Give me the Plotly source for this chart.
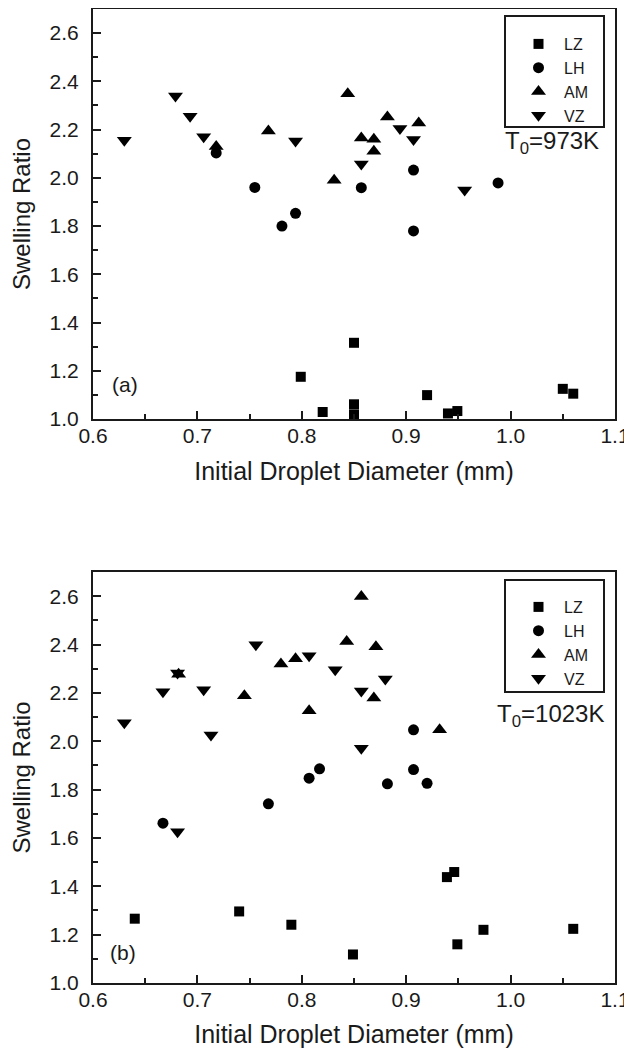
import plotly.graph_objects as go

# ---------------- data ----------------
# (a) T0 = 973 K
a_LZ_x = [0.850, 0.799, 0.820, 0.850, 0.850, 0.920, 0.940, 0.949, 1.050, 1.060]
a_LZ_y = [1.316, 1.175, 1.029, 1.061, 1.019, 1.099, 1.023, 1.033, 1.125, 1.105]
a_LH_x = [0.718, 0.755, 0.781, 0.794, 0.857, 0.907, 0.907, 0.988]
a_LH_y = [2.103, 1.960, 1.800, 1.853, 1.959, 2.032, 1.780, 1.979]
a_AM_x = [0.718, 0.768, 0.831, 0.844, 0.857, 0.869, 0.869, 0.882, 0.912]
a_AM_y = [2.130, 2.194, 1.990, 2.349, 2.165, 2.160, 2.110, 2.252, 2.227]
a_VZ_x = [0.630, 0.679, 0.693, 0.706, 0.794, 0.857, 0.894, 0.907, 0.956]
a_VZ_y = [2.156, 2.339, 2.255, 2.170, 2.153, 2.057, 2.204, 2.159, 1.950]

# (b) T0 = 1023 K
b_LZ_x = [0.640, 0.740, 0.790, 0.849, 0.939, 0.946, 0.949, 0.974, 1.060]
b_LZ_y = [1.266, 1.296, 1.241, 1.118, 1.438, 1.459, 1.160, 1.220, 1.224]
b_LH_x = [0.907, 0.807, 0.817, 0.907, 0.882, 0.920, 0.768, 0.667]
b_LH_y = [2.047, 1.847, 1.886, 1.883, 1.824, 1.826, 1.741, 1.661]
b_AM_x = [0.682, 0.745, 0.780, 0.794, 0.807, 0.843, 0.857, 0.871, 0.869, 0.932]
b_AM_y = [2.277, 2.188, 2.319, 2.341, 2.126, 2.413, 2.599, 2.391, 2.179, 2.048]
b_VZ_x = [0.630, 0.667, 0.681, 0.706, 0.713, 0.756, 0.807, 0.832, 0.857, 0.857, 0.880, 0.681]
b_VZ_y = [2.076, 2.205, 2.282, 2.213, 2.026, 2.399, 2.354, 2.296, 2.208, 1.971, 2.257, 1.626]

series_names = ["LZ", "LH", "AM", "VZ"]
x_ticks = [0.6, 0.7, 0.8, 0.9, 1.0, 1.1]
x_tick_labels = ["0.6", "0.7", "0.8", "0.9", "1.0", "1.1"]
y_ticks = [1.0, 1.2, 1.4, 1.6, 1.8, 2.0, 2.2, 2.4, 2.6]
y_tick_labels = ["1.0", "1.2", "1.4", "1.6", "1.8", "2.0", "2.2", "2.4", "2.6"]
panel_labels = ["(a)", "(b)"]
temp_labels = ["T<sub>0</sub>=973K", "T<sub>0</sub>=1023K"]

# ---------------- layout constants ----------------
# The page body keeps its default 8px margin, so the figure starts at (8, 8)
# in the window; all target positions below are given in window pixels.
OFF = 8
W, H = 632 - OFF, 1048 - OFF
FRAME_L, FRAME_R, FRAME_T, FRAME_B = 93, 615, 9, 983
ML = FRAME_L - OFF
MR = W - (FRAME_R - OFF)
MT = FRAME_T - OFF
MB = H - (FRAME_B - OFF)
PW = W - ML - MR
PH = H - MT - MB


def py(pix):
    return 1 - (pix - OFF - MT) / PH


def px(pix):
    return (pix - OFF - ML) / PW


FONT = "Liberation Sans, Arial, sans-serif"
INK = "#1a1a1a"
symbols = ["square", "circle", "triangle-up", "triangle-down"]
sizes = [10, 11, 13, 13]

fig = go.Figure()

panels = [
    (a_LZ_x, a_LZ_y, a_LH_x, a_LH_y, a_AM_x, a_AM_y, a_VZ_x, a_VZ_y),
    (b_LZ_x, b_LZ_y, b_LH_x, b_LH_y, b_AM_x, b_AM_y, b_VZ_x, b_VZ_y),
]
for p, data in enumerate(panels):
    xa = "x" if p == 0 else "x2"
    ya = "y" if p == 0 else "y2"
    lg = "legend" if p == 0 else "legend2"
    for i, name in enumerate(series_names):
        fig.add_trace(go.Scatter(
            x=data[2 * i], y=data[2 * i + 1], mode="markers", name=name,
            xaxis=xa, yaxis=ya, legend=lg,
            marker=dict(symbol=symbols[i], size=sizes[i], color="black",
                        line=dict(width=0)),
        ))

axis_common = dict(
    showline=True, linecolor=INK, linewidth=2, mirror=True,
    ticks="inside", ticklen=8, tickwidth=1.5, tickcolor=INK,
    showgrid=False, zeroline=False, ticklabeloverflow="allow",
    tickfont=dict(family=FONT, size=21, color=INK),
)
xaxis_common = dict(axis_common, range=[0.6, 1.1], tickvals=x_ticks, ticktext=x_tick_labels,
                    ticklabelstandoff=-3,
                    minor=dict(ticks="inside", ticklen=5, tickwidth=1.5, tickcolor=INK,
                               dtick=0.05, tick0=0.6, showgrid=False),
                    title=dict(text="Initial Droplet Diameter (mm)", standoff=16,
                               font=dict(family=FONT, size=25, color=INK)))
yaxis_common = dict(axis_common, range=[1.0, 2.7], tickvals=y_ticks, ticktext=y_tick_labels,
                    ticklabelstandoff=8,
                    minor=dict(ticks="inside", ticklen=5, tickwidth=1.5, tickcolor=INK,
                               dtick=0.1, tick0=1.0, showgrid=False),
                    title=dict(text="Swelling Ratio", standoff=13,
                               font=dict(family=FONT, size=24, color=INK)))

top_dom = [py(419), 1.0]
bot_dom = [0.0, py(572)]

legend_common = dict(
    bgcolor="rgba(0,0,0,0)", borderwidth=0, itemwidth=41,
    font=dict(family=FONT, size=16, color=INK),
    xanchor="left", yanchor="top", tracegroupgap=0, itemclick=False,
)

fig.update_layout(
    width=W, height=H,
    margin=dict(l=ML, r=MR, t=MT, b=MB, autoexpand=False),
    paper_bgcolor="white", plot_bgcolor="white",
    showlegend=True,
    xaxis=dict(xaxis_common, domain=[0, 1], anchor="y"),
    yaxis=dict(yaxis_common, domain=top_dom, anchor="x"),
    xaxis2=dict(xaxis_common, domain=[0, 1], anchor="y2"),
    yaxis2=dict(yaxis_common, domain=bot_dom, anchor="x2"),
    legend=dict(legend_common, x=px(513), y=py(27)),
    legend2=dict(legend_common, x=px(513), y=py(590)),
)

# legend frames
for top, bot in [(16, 127), (580, 692)]:
    fig.add_shape(type="rect", xref="paper", yref="paper",
                  x0=px(505), x1=px(604), y0=py(bot), y1=py(top),
                  line=dict(color=INK, width=2), fillcolor="rgba(0,0,0,0)")

# temperature labels and panel labels
for (tx, ty), txt in zip([(552, 143), (550, 715)], temp_labels):
    fig.add_annotation(x=px(tx), y=py(ty), xref="paper", yref="paper", text=txt,
                       xanchor="center", yanchor="middle",
                       showarrow=False, font=dict(family=FONT, size=24, color=INK))
for (tx, ty), txt in zip([(125, 385), (123, 952)], panel_labels):
    fig.add_annotation(x=px(tx), y=py(ty), xref="paper", yref="paper", text=txt,
                       xanchor="center", yanchor="middle",
                       showarrow=False, font=dict(family=FONT, size=21, color=INK))

fig.write_html("out.html")
